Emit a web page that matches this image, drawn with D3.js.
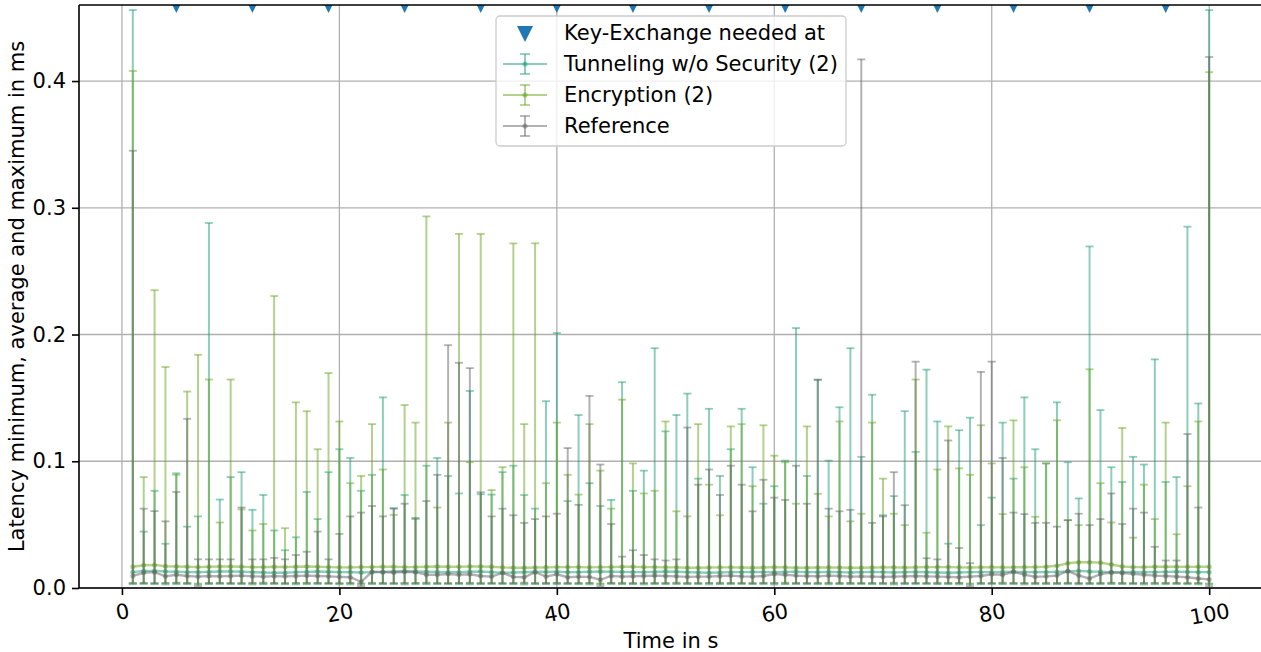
<!DOCTYPE html>
<html>
<head>
<meta charset="utf-8">
<script src="https://cdn.jsdelivr.net/npm/d3@7"></script>
<style>
  body { margin: 0; background: #fff; }
  text { font-family: "DejaVu Sans", sans-serif; }
</style>
</head>
<body>
<script>
// time axis (s) and key exchange moments
var seconds = d3.range(1, 101);
var keyExchangeAt = [5, 12, 19, 26, 33, 40, 47, 54, 61, 68, 75, 82, 89, 96];
var xTicks = [0, 20, 40, 60, 80, 100];
var yTicks = [0.0, 0.1, 0.2, 0.3, 0.4];

// Tunneling w/o Security (2)
var tunnelMax = [0.456,0.0445,0.0767,0.0349,0.0905,0.0484,0.0565,0.288,0.0698,0.0875,
  0.0914,0.0617,0.0734,0.0454,0.0298,0.040,0.0758,0.0544,0.0914,0.1095,
  0.1026,0.0767,0.0893,0.1504,0.063,0.0734,0.0544,0.0965,0.1026,0.0884,
  0.0746,0.1555,0.074,0.0737,0.0914,0.0965,0.0734,0.0626,0.1474,0.2012,
  0.0686,0.1365,0.0827,0.0647,0.0695,0.1624,0.0767,0.0926,0.1892,0.1236,
  0.1365,0.1534,0.0863,0.1414,0.0884,0.1095,0.1414,0.0953,0.0665,0.0803,
  0.1005,0.2051,0.0884,0.1645,0.1005,0.1426,0.1892,0.1035,0.1525,0.0574,
  0.0725,0.1395,0.1074,0.1723,0.1314,0.035,0.1245,0.1344,0.0496,0.0713,
  0.1305,0.0863,0.1504,0.1095,0.0983,0.1465,0.0992,0.0707,0.2695,0.1404,
  0.0953,0.0836,0.1035,0.0974,0.1804,0.0836,0.0875,0.2851,0.1456,0.456];
var tunnelAvg = [0.0125,0.0135,0.0135,0.013,0.0128,0.0125,0.0125,0.0127,0.013,0.013,
  0.0128,0.0125,0.0122,0.012,0.012,0.0125,0.0127,0.013,0.0128,0.0125,
  0.0125,0.0122,0.0125,0.0127,0.013,0.0132,0.013,0.0128,0.0127,0.0125,
  0.0125,0.0128,0.013,0.0125,0.012,0.0122,0.0125,0.0128,0.0127,0.0128,
  0.0125,0.0125,0.0128,0.013,0.0128,0.0127,0.0125,0.0125,0.0127,0.013,
  0.0128,0.0125,0.0122,0.012,0.0122,0.0125,0.0125,0.0127,0.0125,0.0125,
  0.0127,0.0128,0.0125,0.0125,0.0127,0.0125,0.0122,0.0125,0.0127,0.0125,
  0.0122,0.0125,0.0127,0.0125,0.0122,0.012,0.0122,0.0125,0.0125,0.0125,
  0.0127,0.0128,0.0125,0.0125,0.0125,0.0127,0.013,0.0135,0.013,0.0128,
  0.0125,0.0125,0.0127,0.0125,0.0125,0.0127,0.0128,0.0127,0.0125,0.0125];
var tunnelMin = [0.0030,0.0032,0.0030,0.0028,0.0030,0.0031,0.0029,0.0030,0.0032,0.0030,
  0.0030,0.0028,0.0030,0.0031,0.0030,0.0029,0.0030,0.0030,0.0032,0.0030,
  0.0029,0.0030,0.0030,0.0031,0.0030,0.0028,0.0030,0.0030,0.0031,0.0030,
  0.0030,0.0029,0.0030,0.0032,0.0030,0.0030,0.0028,0.0030,0.0031,0.0030,
  0.0030,0.0030,0.0029,0.0030,0.0031,0.0030,0.0030,0.0028,0.0030,0.0030,
  0.0031,0.0030,0.0030,0.0029,0.0030,0.0030,0.0032,0.0030,0.0030,0.0028,
  0.0030,0.0031,0.0030,0.0030,0.0029,0.0030,0.0030,0.0031,0.0030,0.0030,
  0.0028,0.0030,0.0030,0.0031,0.0030,0.0030,0.0029,0.0030,0.0030,0.0032,
  0.0030,0.0030,0.0028,0.0030,0.0031,0.0030,0.0030,0.0029,0.0030,0.0030,
  0.0031,0.0030,0.0030,0.0028,0.0030,0.0030,0.0031,0.0030,0.0029,0.0030];

// Encryption (2)
var encMax = [0.408,0.0875,0.235,0.1744,0.0893,0.155,0.184,0.1645,0.0517,0.1645,
  0.062,0.0454,0.0505,0.2304,0.0472,0.1465,0.1395,0.1095,0.1696,0.1314,
  0.0827,0.0884,0.1293,0.0935,0.0577,0.1444,0.1305,0.2932,0.0635,0.1305,
  0.2794,0.0992,0.2794,0.0773,0.0953,0.2719,0.1293,0.272,0.0827,0.1305,
  0.0893,0.0737,0.1293,0.0926,0.0626,0.1486,0.0983,0.0746,0.0767,0.1314,
  0.0605,0.0565,0.1293,0.0815,0.0574,0.1275,0.1293,0.0803,0.1284,0.1044,
  0.0992,0.0665,0.1275,0.0743,0.0565,0.1314,0.0526,0.0586,0.1305,0.0863,
  0.0586,0.0496,0.1645,0.0436,0.0935,0.1275,0.0944,0.0893,0.1284,0.0983,
  0.0583,0.1323,0.0953,0.0562,0.0983,0.1323,0.0535,0.0496,0.1726,0.0827,
  0.0517,0.1263,0.0397,0.0815,0.0544,0.1305,0.0424,0.0803,0.1314,0.407];
var encAvg = [0.0168,0.018,0.0182,0.0172,0.017,0.0168,0.0165,0.0168,0.017,0.017,
  0.0168,0.0165,0.0165,0.0168,0.0165,0.0168,0.017,0.0168,0.0165,0.0163,
  0.0163,0.0165,0.0165,0.0168,0.0168,0.0165,0.0165,0.0168,0.017,0.0168,
  0.0168,0.017,0.017,0.0168,0.0163,0.016,0.016,0.0162,0.0163,0.0165,
  0.0165,0.0165,0.0163,0.0165,0.0165,0.0168,0.0168,0.0165,0.0165,0.0163,
  0.0163,0.016,0.016,0.0162,0.0163,0.0163,0.0162,0.016,0.0162,0.0165,
  0.0163,0.016,0.016,0.0162,0.0163,0.0162,0.016,0.016,0.0162,0.0163,
  0.0163,0.0162,0.0163,0.0165,0.0165,0.0165,0.0163,0.0162,0.0163,0.0165,
  0.0163,0.0163,0.0165,0.0165,0.0168,0.0175,0.0195,0.0203,0.0203,0.020,
  0.0185,0.017,0.0165,0.0165,0.0168,0.0168,0.0168,0.0167,0.0168,0.0168];
var encMin = [0.0036,0.0037,0.0035,0.0036,0.0038,0.0036,0.0035,0.0036,0.0037,0.0036,
  0.0035,0.0036,0.0036,0.0037,0.0035,0.0036,0.0036,0.0038,0.0036,0.0035,
  0.0036,0.0037,0.0036,0.0035,0.0036,0.0036,0.0037,0.0036,0.0035,0.0036,
  0.0038,0.0036,0.0035,0.0036,0.0037,0.0036,0.0036,0.0035,0.0036,0.0037,
  0.0036,0.0035,0.0036,0.0036,0.0038,0.0036,0.0035,0.0036,0.0037,0.0036,
  0.0036,0.0035,0.0036,0.0037,0.0036,0.0036,0.0035,0.0036,0.0038,0.0036,
  0.0035,0.0036,0.0037,0.0036,0.0036,0.0035,0.0036,0.0037,0.0036,0.0036,
  0.0035,0.0036,0.0038,0.0036,0.0035,0.0036,0.0037,0.0036,0.0036,0.0035,
  0.0036,0.0037,0.0036,0.0036,0.0035,0.0036,0.0038,0.0036,0.0035,0.0036,
  0.0037,0.0036,0.0036,0.0035,0.0036,0.0037,0.0036,0.0036,0.0035,0.0036];

// Reference
var refMax = [0.345,0.0626,0.0607,0.0526,0.0758,0.1335,0.0226,0.0226,0.0226,0.0226,
  0.0635,0.0226,0.0226,0.0238,0.0226,0.026,0.0286,0.0445,0.0226,0.0427,
  0.0565,0.0595,0.0647,0.0565,0.0626,0.0665,0.0553,0.0686,0.0893,0.1916,
  0.1777,0.1735,0.0755,0.0565,0.0626,0.0574,0.0514,0.0544,0.0565,0.0586,
  0.1104,0.0656,0.1516,0.0974,0.0505,0.0247,0.0298,0.026,0.0226,0.0217,
  0.0226,0.1266,0.0815,0.0935,0.0734,0.0965,0.0815,0.0605,0.0854,0.0713,
  0.0695,0.0965,0.0665,0.1642,0.0626,0.0605,0.0617,0.4171,0.0514,0.0565,
  0.0914,0.0653,0.1786,0.0235,0.0226,0.1164,0.0316,0.0196,0.1705,0.1786,
  0.1026,0.0595,0.0583,0.0514,0.0514,0.0484,0.0535,0.0586,0.0496,0.0544,
  0.0746,0.0505,0.0626,0.0595,0.0325,0.0217,0.0217,0.1215,0.0635,0.419];
var refAvg = [0.0095,0.012,0.0125,0.0092,0.0105,0.0095,0.009,0.0095,0.0092,0.0095,
  0.0098,0.0092,0.009,0.0093,0.0092,0.0095,0.0098,0.0095,0.0092,0.0088,
  0.0085,0.0048,0.0128,0.0125,0.0122,0.0128,0.0125,0.0105,0.0105,0.011,
  0.0105,0.0108,0.0095,0.009,0.012,0.0088,0.0085,0.0125,0.009,0.0108,
  0.0085,0.009,0.0088,0.0065,0.0095,0.009,0.0092,0.0095,0.0098,0.0095,
  0.0092,0.0088,0.009,0.009,0.0095,0.0098,0.0092,0.009,0.0095,0.011,
  0.0105,0.0098,0.0095,0.0092,0.0098,0.0095,0.009,0.0092,0.009,0.0088,
  0.009,0.0092,0.0095,0.0092,0.009,0.0088,0.0085,0.009,0.0095,0.0108,
  0.0105,0.0128,0.0105,0.0088,0.0092,0.0098,0.0135,0.0098,0.0075,0.011,
  0.0122,0.0118,0.0112,0.0105,0.0098,0.0095,0.009,0.0085,0.0075,0.0068];
var refMin = [0.0040,0.0041,0.0039,0.0040,0.0042,0.0040,0.0015,0.0040,0.0041,0.0039,
  0.0040,0.0040,0.0042,0.0040,0.0039,0.0040,0.0041,0.0040,0.0040,0.0039,
  0.0040,0.0015,0.0041,0.0040,0.0039,0.0040,0.0040,0.0042,0.0040,0.0039,
  0.0040,0.0041,0.0040,0.0040,0.0039,0.0040,0.0042,0.0040,0.0040,0.0041,
  0.0039,0.0040,0.0040,0.0015,0.0040,0.0041,0.0040,0.0039,0.0040,0.0040,
  0.0042,0.0040,0.0039,0.0040,0.0041,0.0040,0.0040,0.0039,0.0040,0.0040,
  0.0042,0.0040,0.0039,0.0040,0.0041,0.0040,0.0040,0.0039,0.0040,0.0040,
  0.0042,0.0040,0.0039,0.0040,0.0041,0.0040,0.0040,0.0015,0.0040,0.0040,
  0.0042,0.0040,0.0039,0.0040,0.0041,0.0040,0.0040,0.0039,0.0040,0.0040,
  0.0042,0.0040,0.0039,0.0040,0.0041,0.0040,0.0040,0.0039,0.0040,0.0015];

var series = [
  {name: "Tunneling w/o Security (2)", color: "#1b9e77", min: tunnelMin, avg: tunnelAvg, max: tunnelMax},
  {name: "Encryption (2)", color: "#66a61e", min: encMin, avg: encAvg, max: encMax},
  {name: "Reference", color: "#666666", min: refMin, avg: refAvg, max: refMax}
];

var width = 1261, height = 652;
var plot = {left: 79, right: 1263, top: 5, bottom: 588};
var alpha = 0.5;
var fontSize = 21;

var svg = d3.select("body").append("svg")
    .attr("width", width)
    .attr("height", height);

var x = d3.scaleLinear().domain([-3.95, 104.95]).range([plot.left, plot.right]);
var y = d3.scaleLinear().domain([0, 0.46]).range([plot.bottom, plot.top]);

svg.append("clipPath").attr("id", "clip")
  .append("rect")
    .attr("x", plot.left).attr("y", plot.top)
    .attr("width", plot.right - plot.left).attr("height", plot.bottom - plot.top);

// grid
var grid = svg.append("g").attr("stroke", "#b0b0b0").attr("stroke-width", 1.3);
grid.selectAll(".vx").data(xTicks).enter().append("line")
    .attr("x1", d => x(d)).attr("x2", d => x(d))
    .attr("y1", plot.top).attr("y2", plot.bottom);
grid.selectAll(".hy").data(yTicks).enter().append("line")
    .attr("x1", plot.left).attr("x2", plot.right)
    .attr("y1", d => y(d)).attr("y2", d => y(d));

var area = svg.append("g").attr("clip-path", "url(#clip)");

// key exchange markers, sitting on the top edge
area.selectAll(".kx").data(keyExchangeAt).enter().append("path")
    .attr("d", "M-8,-8L8,-8L0,8Z")
    .attr("transform", d => "translate(" + x(d) + "," + y(y.domain()[1]) + ")")
    .attr("fill", "#1f77b4");

// error bars + average lines
var capW = 4;
series.forEach(function(s) {
  var pts = seconds.map((t, i) => ({t: t, lo: s.min[i], mid: s.avg[i], hi: s.max[i]}));
  var g = area.append("g").attr("stroke", s.color).attr("stroke-width", 2);

  g.selectAll(".bar").data(pts).enter().append("line")
      .attr("x1", d => x(d.t)).attr("x2", d => x(d.t))
      .attr("y1", d => y(d.lo)).attr("y2", d => y(d.hi))
      .attr("stroke-opacity", alpha);
  g.selectAll(".capHi").data(pts).enter().append("line")
      .attr("x1", d => x(d.t) - capW).attr("x2", d => x(d.t) + capW)
      .attr("y1", d => y(d.hi)).attr("y2", d => y(d.hi))
      .attr("stroke-width", 1.8).attr("stroke-opacity", alpha);
  g.selectAll(".capLo").data(pts).enter().append("line")
      .attr("x1", d => x(d.t) - capW).attr("x2", d => x(d.t) + capW)
      .attr("y1", d => y(d.lo)).attr("y2", d => y(d.lo))
      .attr("stroke-width", 1.8).attr("stroke-opacity", alpha);

  g.append("path")
      .datum(pts)
      .attr("fill", "none")
      .attr("stroke-opacity", alpha)
      .attr("stroke-width", 2.4)
      .attr("d", d3.line().x(d => x(d.t)).y(d => y(d.mid)));
  g.selectAll(".dot").data(pts).enter().append("circle")
      .attr("cx", d => x(d.t)).attr("cy", d => y(d.mid))
      .attr("r", 2.5)
      .attr("stroke", "none")
      .attr("fill", s.color).attr("fill-opacity", alpha);
});

// spines
var spines = svg.append("g").attr("stroke", "#000").attr("stroke-width", 1.6).attr("fill", "none");
spines.append("path").attr("d", "M" + plot.left + "," + plot.top + "V" + plot.bottom + "H" + plot.right);
spines.append("path").attr("d", "M" + plot.left + "," + plot.top + "H" + plot.right);

// x axis
var xAxis = svg.append("g")
    .attr("transform", "translate(0," + plot.bottom + ")")
    .call(d3.axisBottom(x).tickValues(xTicks).tickSize(7).tickFormat(d3.format("d")));
xAxis.select(".domain").remove();
xAxis.selectAll(".tick line").attr("stroke", "#000").attr("stroke-width", 1.6);
xAxis.selectAll(".tick text")
    .attr("font-size", fontSize)
    .attr("font-family", "DejaVu Sans")
    .attr("fill", "#000")
    .attr("y", 0).attr("dy", "0.35em")
    .each(function() {
      var w = this.getComputedTextLength();
      var cy = 7 + 8 + (w * 0.174 + 15) / 2;
      d3.select(this).attr("transform", "translate(0," + cy + ") rotate(-10)");
    });

// y axis
var yAxis = svg.append("g")
    .attr("transform", "translate(" + plot.left + ",0)")
    .call(d3.axisLeft(y).tickValues(yTicks).tickSize(7).tickPadding(6).tickFormat(d3.format(".1f")));
yAxis.select(".domain").remove();
yAxis.selectAll(".tick line").attr("stroke", "#000").attr("stroke-width", 1.6);
yAxis.selectAll(".tick text")
    .attr("font-size", fontSize)
    .attr("font-family", "DejaVu Sans")
    .attr("fill", "#000");

// axis labels
svg.append("text")
    .attr("x", (plot.left + plot.right) / 2).attr("y", 648)
    .attr("text-anchor", "middle")
    .attr("font-size", fontSize)
    .text("Time in s");
svg.append("text")
    .attr("transform", "translate(17," + (plot.top + plot.bottom) / 2 + ") rotate(-90)")
    .attr("text-anchor", "middle")
    .attr("dy", "0.35em")
    .attr("font-size", fontSize)
    .text("Latency minimum, average and maximum in ms");

// legend
var lg = svg.append("g");
lg.append("rect")
    .attr("x", 496).attr("y", 16).attr("width", 350).attr("height", 130)
    .attr("rx", 4)
    .attr("fill", "#fff").attr("fill-opacity", 0.8)
    .attr("stroke", "#cccccc").attr("stroke-width", 1.3);

var rowY = [33, 64, 95, 126];
lg.append("path")
    .attr("d", "M-8,-8L8,-8L0,8Z")
    .attr("transform", "translate(525," + (rowY[0] + 1) + ")")
    .attr("fill", "#1f77b4");
lg.append("text").attr("x", 564).attr("y", rowY[0]).attr("dy", "0.35em")
    .attr("font-size", fontSize).text("Key-Exchange needed at");

series.forEach(function(s, i) {
  var cy = rowY[i + 1];
  var h = lg.append("g").attr("stroke", s.color).attr("stroke-opacity", alpha).attr("stroke-width", 2);
  h.append("line").attr("x1", 503).attr("x2", 547).attr("y1", cy).attr("y2", cy);
  h.append("line").attr("x1", 525).attr("x2", 525).attr("y1", cy - 10).attr("y2", cy + 10);
  h.append("line").attr("x1", 520).attr("x2", 530).attr("y1", cy - 10).attr("y2", cy - 10).attr("stroke-width", 1.8);
  h.append("line").attr("x1", 520).attr("x2", 530).attr("y1", cy + 10).attr("y2", cy + 10).attr("stroke-width", 1.8);
  lg.append("circle").attr("cx", 525).attr("cy", cy).attr("r", 2.6)
      .attr("fill", s.color).attr("fill-opacity", alpha);
  lg.append("text").attr("x", 564).attr("y", cy).attr("dy", "0.35em")
      .attr("font-size", fontSize).text(s.name);
});
</script>
</body>
</html>
